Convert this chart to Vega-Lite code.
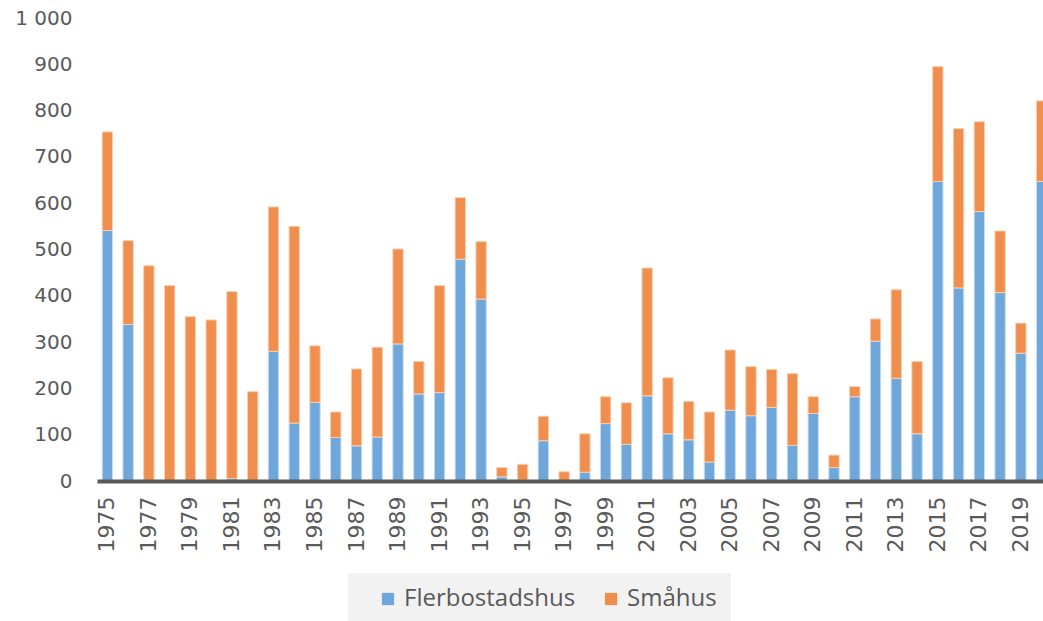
{
  "$schema": "https://vega.github.io/schema/vega-lite/v6.json",
  "autosize": "none",
  "width": 946,
  "height": 463,
  "padding": {"left": 97, "top": 18, "right": 0, "bottom": 140},
  "background": "#ffffff",
  "config": {"view": {"stroke": null}},
  "data": {
    "values": [
      {"year": "1975", "serie": "Flerbostadshus", "value": 541}, {"year": "1975", "serie": "Småhus", "value": 213},
      {"year": "1976", "serie": "Flerbostadshus", "value": 338}, {"year": "1976", "serie": "Småhus", "value": 181},
      {"year": "1977", "serie": "Flerbostadshus", "value": 0}, {"year": "1977", "serie": "Småhus", "value": 465},
      {"year": "1978", "serie": "Flerbostadshus", "value": 0}, {"year": "1978", "serie": "Småhus", "value": 422},
      {"year": "1979", "serie": "Flerbostadshus", "value": 0}, {"year": "1979", "serie": "Småhus", "value": 355},
      {"year": "1980", "serie": "Flerbostadshus", "value": 0}, {"year": "1980", "serie": "Småhus", "value": 348},
      {"year": "1981", "serie": "Flerbostadshus", "value": 5}, {"year": "1981", "serie": "Småhus", "value": 404},
      {"year": "1982", "serie": "Flerbostadshus", "value": 0}, {"year": "1982", "serie": "Småhus", "value": 193},
      {"year": "1983", "serie": "Flerbostadshus", "value": 280}, {"year": "1983", "serie": "Småhus", "value": 312},
      {"year": "1984", "serie": "Flerbostadshus", "value": 125}, {"year": "1984", "serie": "Småhus", "value": 425},
      {"year": "1985", "serie": "Flerbostadshus", "value": 170}, {"year": "1985", "serie": "Småhus", "value": 122},
      {"year": "1986", "serie": "Flerbostadshus", "value": 94}, {"year": "1986", "serie": "Småhus", "value": 55},
      {"year": "1987", "serie": "Flerbostadshus", "value": 76}, {"year": "1987", "serie": "Småhus", "value": 166},
      {"year": "1988", "serie": "Flerbostadshus", "value": 95}, {"year": "1988", "serie": "Småhus", "value": 194},
      {"year": "1989", "serie": "Flerbostadshus", "value": 296}, {"year": "1989", "serie": "Småhus", "value": 205},
      {"year": "1990", "serie": "Flerbostadshus", "value": 188}, {"year": "1990", "serie": "Småhus", "value": 70},
      {"year": "1991", "serie": "Flerbostadshus", "value": 191}, {"year": "1991", "serie": "Småhus", "value": 231},
      {"year": "1992", "serie": "Flerbostadshus", "value": 479}, {"year": "1992", "serie": "Småhus", "value": 133},
      {"year": "1993", "serie": "Flerbostadshus", "value": 393}, {"year": "1993", "serie": "Småhus", "value": 124},
      {"year": "1994", "serie": "Flerbostadshus", "value": 9}, {"year": "1994", "serie": "Småhus", "value": 20},
      {"year": "1995", "serie": "Flerbostadshus", "value": 2}, {"year": "1995", "serie": "Småhus", "value": 34},
      {"year": "1996", "serie": "Flerbostadshus", "value": 87}, {"year": "1996", "serie": "Småhus", "value": 53},
      {"year": "1997", "serie": "Flerbostadshus", "value": 0}, {"year": "1997", "serie": "Småhus", "value": 20},
      {"year": "1998", "serie": "Flerbostadshus", "value": 19}, {"year": "1998", "serie": "Småhus", "value": 83},
      {"year": "1999", "serie": "Flerbostadshus", "value": 124}, {"year": "1999", "serie": "Småhus", "value": 58},
      {"year": "2000", "serie": "Flerbostadshus", "value": 79}, {"year": "2000", "serie": "Småhus", "value": 90},
      {"year": "2001", "serie": "Flerbostadshus", "value": 184}, {"year": "2001", "serie": "Småhus", "value": 276},
      {"year": "2002", "serie": "Flerbostadshus", "value": 102}, {"year": "2002", "serie": "Småhus", "value": 121},
      {"year": "2003", "serie": "Flerbostadshus", "value": 89}, {"year": "2003", "serie": "Småhus", "value": 83},
      {"year": "2004", "serie": "Flerbostadshus", "value": 41}, {"year": "2004", "serie": "Småhus", "value": 108},
      {"year": "2005", "serie": "Flerbostadshus", "value": 153}, {"year": "2005", "serie": "Småhus", "value": 130},
      {"year": "2006", "serie": "Flerbostadshus", "value": 141}, {"year": "2006", "serie": "Småhus", "value": 106},
      {"year": "2007", "serie": "Flerbostadshus", "value": 159}, {"year": "2007", "serie": "Småhus", "value": 82},
      {"year": "2008", "serie": "Flerbostadshus", "value": 77}, {"year": "2008", "serie": "Småhus", "value": 155},
      {"year": "2009", "serie": "Flerbostadshus", "value": 146}, {"year": "2009", "serie": "Småhus", "value": 36},
      {"year": "2010", "serie": "Flerbostadshus", "value": 29}, {"year": "2010", "serie": "Småhus", "value": 27},
      {"year": "2011", "serie": "Flerbostadshus", "value": 182}, {"year": "2011", "serie": "Småhus", "value": 22},
      {"year": "2012", "serie": "Flerbostadshus", "value": 302}, {"year": "2012", "serie": "Småhus", "value": 48},
      {"year": "2013", "serie": "Flerbostadshus", "value": 222}, {"year": "2013", "serie": "Småhus", "value": 191},
      {"year": "2014", "serie": "Flerbostadshus", "value": 102}, {"year": "2014", "serie": "Småhus", "value": 156},
      {"year": "2015", "serie": "Flerbostadshus", "value": 647}, {"year": "2015", "serie": "Småhus", "value": 248},
      {"year": "2016", "serie": "Flerbostadshus", "value": 417}, {"year": "2016", "serie": "Småhus", "value": 344},
      {"year": "2017", "serie": "Flerbostadshus", "value": 582}, {"year": "2017", "serie": "Småhus", "value": 194},
      {"year": "2018", "serie": "Flerbostadshus", "value": 407}, {"year": "2018", "serie": "Småhus", "value": 133},
      {"year": "2019", "serie": "Flerbostadshus", "value": 276}, {"year": "2019", "serie": "Småhus", "value": 65},
      {"year": "2020", "serie": "Flerbostadshus", "value": 647}, {"year": "2020", "serie": "Småhus", "value": 174}
    ]
  },
  "mark": {"type": "bar", "strokeWidth": 1},
  "encoding": {
    "x": {
      "field": "year",
      "type": "ordinal",
      "scale": {"paddingInner": 0.5, "paddingOuter": 0.25, "range": [0, 955]},
      "axis": {
        "title": null,
        "values": ["1975","1977","1979","1981","1983","1985","1987","1989","1991","1993","1995","1997","1999","2001","2003","2005","2007","2009","2011","2013","2015","2017","2019"],
        "labelAngle": -90,
        "labelAlign": "right",
        "labelBaseline": "middle",
        "labelFont": "DejaVu Sans",
        "labelFontSize": 22,
        "labelColor": "#595959",
        "labelPadding": 15,
        "ticks": false,
        "domainColor": "#595959",
        "domainWidth": 4,
        "zindex": 1
      }
    },
    "y": {
      "field": "value",
      "type": "quantitative",
      "stack": "zero",
      "scale": {"domain": [0, 1000], "nice": false},
      "axis": {
        "title": null,
        "values": [0, 100, 200, 300, 400, 500, 600, 700, 800, 900, 1000],
        "labelExpr": "datum.value == 1000 ? '1 000' : datum.label",
        "grid": false,
        "domain": false,
        "ticks": false,
        "labelFont": "DejaVu Sans",
        "labelFontSize": 20,
        "labelColor": "#595959",
        "labelPadding": 25
      }
    },
    "color": {
      "field": "serie",
      "type": "nominal",
      "scale": {"domain": ["Flerbostadshus", "Småhus"], "range": ["#6FA7DA", "#EF8E4D"]},
      "legend": {
        "title": null,
        "orient": "none",
        "direction": "horizontal",
        "legendX": 251,
        "legendY": 555,
        "fillColor": "#F2F2F2",
        "padding": 14,
        "symbolType": "square",
        "symbolSize": 150,
        "symbolStrokeWidth": 0,
        "labelFont": "Open Sans",
        "labelFontSize": 24,
        "labelColor": "#595959",
        "labelOffset": 4,
        "labelLimit": 300,
        "columnPadding": 9,
        "symbolOffset": 14
      }
    },
    "stroke": {
      "field": "serie",
      "type": "nominal",
      "scale": {"domain": ["Flerbostadshus", "Småhus"], "range": ["#C9DEF2", "#F9CFB2"]},
      "legend": null
    },
    "order": {"field": "serie", "sort": "ascending"}
  }
}
